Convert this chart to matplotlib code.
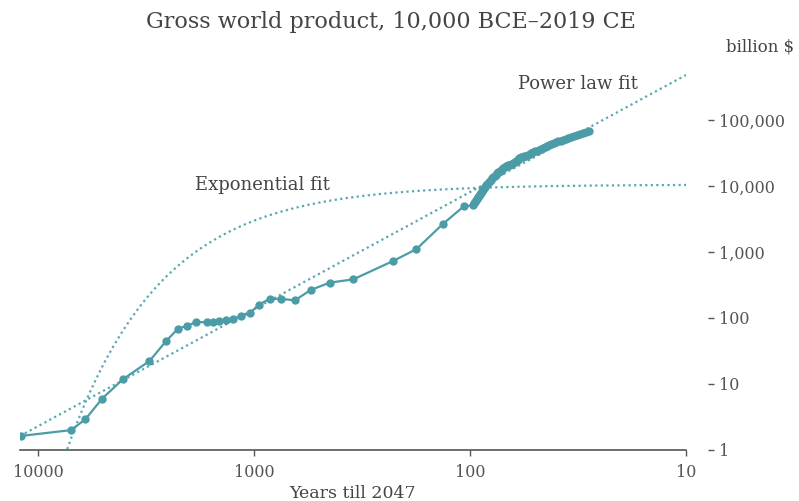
"""Gross world product, 10,000 BCE - 2019 CE, on log-log axes with two fits."""
import numpy as np
import matplotlib

matplotlib.use("Agg")
import matplotlib.pyplot as plt

REF_YEAR = 2047

# coarse estimates, 10,000 BCE to 1940 (billion $)
years_early = [-10000, -5000, -4000, -3000, -2000, -1000, -500, -200, 1,
               200, 400, 500, 600, 700, 800, 900, 1000, 1100, 1200, 1300,
               1400, 1500, 1600, 1700, 1820, 1870, 1913, 1940]
gwp_early = [1.63, 2.0, 2.9, 6.0, 11.8, 22.3, 45, 69, 76,
             87, 86, 86, 89, 92, 98, 107, 118, 160, 195, 195,
             185, 265, 343, 385, 731, 1105, 2630, 4900]

# annual series, 1950 to 2019 (billion $)
years_annual = list(range(1950, 2020))
gwp_annual = [5100, 5450, 5750, 6050, 6350, 6750, 7150, 7500, 7800, 8300,
              8800, 9200, 9700, 10200, 10850, 11400, 12000, 12450, 13050, 13700,
              14300, 14850, 15550, 16450, 16800, 17050, 17900, 18600, 19400, 20100,
              20500, 20900, 21100, 21700, 22700, 23500, 24300, 25200, 26300, 27100,
              27800, 28200, 28700, 29300, 30200, 31100, 32200, 33400, 34100, 35300,
              36800, 37600, 38600, 40000, 41800, 43300, 45100, 46900, 48000, 47800,
              50200, 52200, 54000, 55900, 57800, 59700, 61700, 64100, 66500, 68500]

# fit parameters
POWER_LOG_A, POWER_EXP = 7.456, -1.774      # y = 10**a * t**b
EXP_C, EXP_K = 10500.0, 0.00126             # y = c * exp(-k t)

TEAL = "#4b9ca7"
FIT = "#5aa8b2"
GREY = "#555555"
TEXT = "#444444"

plt.rcParams["font.family"] = ["DejaVu Serif"]

t_data = np.array([REF_YEAR - y for y in years_early + years_annual], dtype=float)
gwp = np.array(gwp_early + gwp_annual, dtype=float)

x_left = 10 ** 4.0833
t_fit = np.logspace(np.log10(x_left), 1, 600)
power_fit = 10 ** POWER_LOG_A * t_fit ** POWER_EXP
exp_fit = EXP_C * np.exp(-EXP_K * t_fit)

fig = plt.figure(figsize=(7.99, 5.01), dpi=100)
ax = fig.add_axes([20 / 799, 51 / 501, 666 / 799, 396 / 501])

ax.plot(t_fit, power_fit, color=FIT, lw=1.6, ls=(0, (1, 1.5)))
ax.plot(t_fit, exp_fit, color=FIT, lw=1.6, ls=(0, (1, 1.5)))
ax.plot(t_data, gwp, color=TEAL, lw=1.6, marker="o", ms=5, mec=TEAL, mfc=TEAL)

ax.set_xscale("log")
ax.set_yscale("log")
ax.set_xlim(x_left, 10)
ax.set_ylim(1, 1e6)

ax.set_xticks([10000, 1000, 100, 10], ["10000", "1000", "100", "10"])
ax.xaxis.set_minor_locator(matplotlib.ticker.NullLocator())
ax.yaxis.tick_right()
ax.set_yticks([1, 10, 100, 1000, 10000, 100000],
              ["1", "10", "100", "1,000", "10,000", "100,000"])
ax.yaxis.set_minor_locator(matplotlib.ticker.NullLocator())

for side in ["top", "left", "right"]:
    ax.spines[side].set_visible(False)
ax.spines["right"].set_position(("outward", 16))
ax.spines["bottom"].set_color(GREY)
ax.spines["bottom"].set_linewidth(1.2)

ax.tick_params(axis="x", length=4, width=1, color=GREY, labelcolor=GREY,
               labelsize=11.5, pad=6)
ax.tick_params(axis="y", length=4, width=1, color=GREY, labelcolor=GREY,
               labelsize=11.5, pad=4)

ax.set_xlabel("Years till 2047", fontsize=12.5, color=TEXT, labelpad=3)

ax.text(31.6, 3.5e5, "Power law fit", fontsize=13, color=TEXT,
        ha="center", va="center")
ax.text(918, 1.04e4, "Exponential fit", fontsize=13, color=TEXT,
        ha="center", va="center")

fig.text(391 / 799, 1 - 22 / 501, "Gross world product, 10,000 BCE\u20132019 CE",
         fontsize=16, color=TEXT, ha="center", va="center")
fig.text(760 / 799, 1 - 47 / 501, "billion $", fontsize=12, color=TEXT,
         ha="center", va="center")

fig.savefig("out.png", dpi=100)
